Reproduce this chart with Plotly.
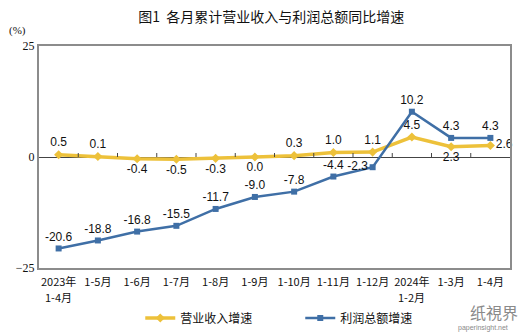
import plotly.graph_objects as go

categories = ["2023年", "1-5月", "1-6月", "1-7月", "1-8月", "1-9月",
              "1-10月", "1-11月", "1-12月", "2024年", "1-3月", "1-4月"]
second_line = {0: "1-4月", 9: "1-2月"}
revenue = [0.5, 0.1, -0.4, -0.5, -0.3, 0.0, 0.3, 1.0, 1.1, 4.5, 2.3, 2.6]
profit = [-20.6, -18.8, -16.8, -15.5, -11.7, -9.0, -7.8, -4.4, -2.3, 10.2, 4.3, 4.3]
rev_pos = ["top center", "top center", "bottom center", "bottom center", "bottom center",
           "bottom center", "top center", "top center", "top center", "top center",
           "bottom center", "middle right"]
prof_pos = ["top center"] * 8 + ["middle left", "top center", "top center", "top center"]

x = list(range(len(categories)))
yellow = "#EDC13A"
blue = "#3F6FA6"

fig = go.Figure()
fig.add_trace(go.Scatter(
    x=x, y=revenue, mode="lines+markers+text", name="营业收入增速",
    line=dict(color=yellow, width=3.5), marker=dict(symbol="diamond", size=7, color=yellow),
    text=[f"{v:.1f}" for v in revenue], textposition=rev_pos,
    textfont=dict(family="Liberation Sans", size=12, color="#111"), cliponaxis=False))
fig.add_trace(go.Scatter(
    x=x, y=profit, mode="lines+markers+text", name="利润总额增速",
    line=dict(color=blue, width=2.5), marker=dict(symbol="square", size=6, color=blue),
    text=[f"{v:.1f}" for v in profit], textposition=prof_pos,
    textfont=dict(family="Liberation Sans", size=12, color="#111"), cliponaxis=False))

# small tick marks on zero line at category boundaries
for i in range(len(categories) - 1):
    fig.add_shape(type="line", xref="x", yref="y", x0=i + 0.5, x1=i + 0.5,
                  ysizemode="pixel", yanchor=0, y0=0, y1=4,
                  line=dict(color="#444", width=1))

annotations = [
    dict(text="(%)", xref="paper", yref="paper", x=-0.045, y=1.03, xanchor="center",
         yanchor="bottom", showarrow=False,
         font=dict(family="Liberation Serif", size=11, color="#111")),
    dict(text="纸視界", xref="paper", yref="paper", x=1.021, y=-0.198, xanchor="right",
         yanchor="middle", showarrow=False,
         font=dict(family="Noto Sans CJK SC", size=16, color="#8a8a8a")),
    dict(text="paperinsight.net", xref="paper", yref="paper", x=1.0, y=-0.272,
         xanchor="right", yanchor="middle", showarrow=False,
         font=dict(family="Liberation Sans", size=7, color="#8a8a8a")),
]
for i, t in second_line.items():
    annotations.append(dict(text=t, xref="x", yref="paper", x=i, y=-0.13,
                            xanchor="center", yanchor="middle", showarrow=False,
                            font=dict(family="Noto Sans CJK SC", size=11, color="#111")))

fig.update_layout(
    width=532, height=335,
    margin=dict(l=39, r=22, t=46, b=67, autoexpand=False),
    paper_bgcolor="white", plot_bgcolor="white",
    font=dict(family="Noto Sans CJK SC", color="#111"),
    title=dict(text="图1  各月累计营业收入与利润总额同比增速", x=0.51, xanchor="center",
               y=0.95, yanchor="middle",
               font=dict(family="Noto Sans CJK SC", size=14, color="#111")),
    showlegend=True,
    legend=dict(orientation="h", x=0.215, xanchor="left", y=-0.225, yanchor="middle",
                font=dict(family="Noto Sans CJK SC", size=12), entrywidth=115,
                bgcolor="rgba(0,0,0,0)"),
    xaxis=dict(tickmode="array", tickvals=x, ticktext=categories, range=[-0.5, 11.5],
               showgrid=False, zeroline=False, showline=True, linecolor="#8c8c8c",
               linewidth=2, mirror=True, ticks="", tickangle=0, automargin=False,
               ticklabelstandoff=3,
               tickfont=dict(family="Noto Sans CJK SC", size=11, color="#111")),
    yaxis=dict(range=[-25, 25], tickvals=[-25, 0, 25], showgrid=False, automargin=False,
               zeroline=True, zerolinecolor="#444", zerolinewidth=1,
               showline=True, linecolor="#8c8c8c", linewidth=2, mirror=True, ticks="",
               tickfont=dict(family="Liberation Serif", size=12, color="#111")),
    annotations=annotations,
)

fig.write_html("out.html")
